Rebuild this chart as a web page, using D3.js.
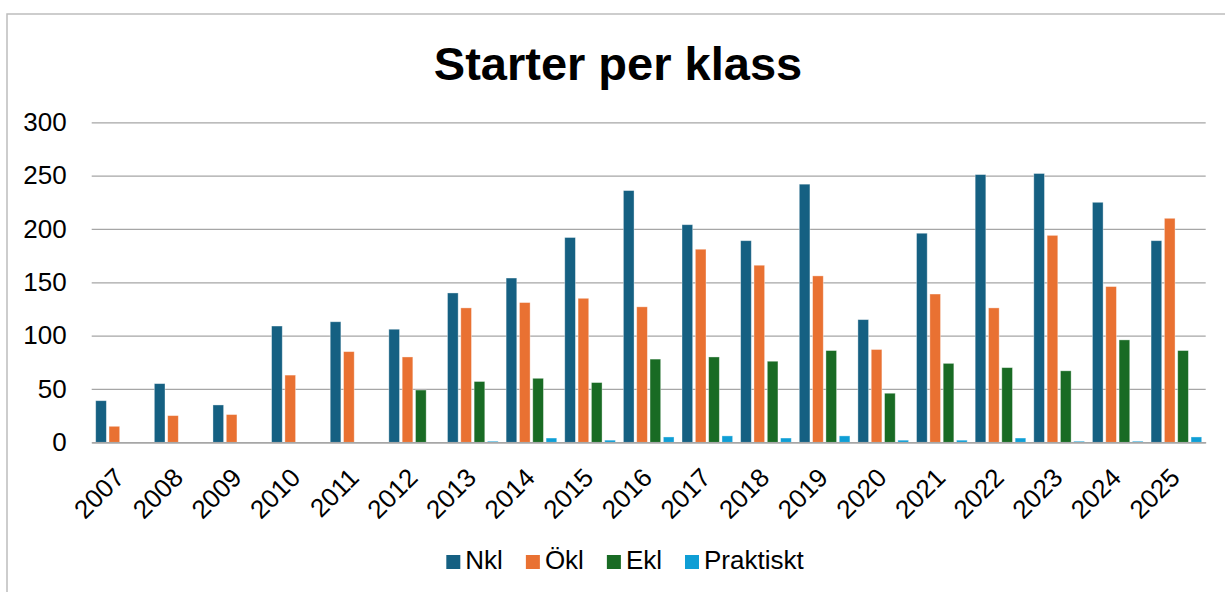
<!DOCTYPE html>
<html>
<head>
<meta charset="utf-8">
<script src="https://cdn.jsdelivr.net/npm/d3@7"></script>
<style>
  body { margin: 0; background: #fff; }
  svg { display: block; font-family: "Liberation Sans", Arial, sans-serif; }
</style>
</head>
<body>
<svg id="chart" width="1225" height="592"></svg>
<script>
// data
const years = ["2007","2008","2009","2010","2011","2012","2013","2014","2015","2016",
               "2017","2018","2019","2020","2021","2022","2023","2024","2025"];
const seriesNames = ["Nkl", "Ökl", "Ekl", "Praktiskt"];
const nkl       = [39, 55, 35, 109, 113, 106, 140, 154, 192, 236, 204, 189, 242, 115, 196, 251, 252, 225, 189];
const okl       = [15, 25, 26, 63, 85, 80, 126, 131, 135, 127, 181, 166, 156, 87, 139, 126, 194, 146, 210];
const ekl       = [0, 0, 0, 0, 0, 49, 57, 60, 56, 78, 80, 76, 86, 46, 74, 70, 67, 96, 86];
const praktiskt = [0, 0, 0, 0, 0, 0, 1, 4, 2, 5, 6, 4, 6, 2, 2, 4, 1, 1, 5];
const yTicks = [0, 50, 100, 150, 200, 250, 300];
const colors = ["#156082", "#E97132", "#196B24", "#0F9ED5"];

const allSeries = [nkl, okl, ekl, praktiskt];

const svg = d3.select("#chart");

// chart border (runs off right and bottom edge like the screenshot)
svg.append("rect")
    .attr("x", 7).attr("y", 14)
    .attr("width", 1240).attr("height", 600)
    .attr("fill", "none")
    .attr("stroke", "#bdbdbd")
    .attr("stroke-width", 1.5);

const plotL = 91.7, plotR = 1205.7, plotT = 122.3, plotB = 442.3;

const x0 = d3.scaleBand().domain(years).range([plotL, plotR]).padding(0);
const x1 = d3.scaleBand().domain(seriesNames).range([0, x0.bandwidth()])
    .paddingInner(0.2).paddingOuter(0.3);
const y = d3.scaleLinear().domain([0, 300]).range([plotB, plotT]);

// title
svg.append("text")
    .attr("x", 618).attr("y", 80)
    .attr("text-anchor", "middle")
    .attr("font-size", 47)
    .attr("font-weight", "bold")
    .attr("fill", "#000")
    .text("Starter per klass");

// gridlines + y labels
const yAxis = d3.axisLeft(y).tickValues(yTicks).tickSize(-(plotR - plotL)).tickPadding(25);
const gy = svg.append("g").attr("transform", `translate(${plotL},0)`).call(yAxis);
gy.select(".domain").remove();
gy.selectAll(".tick line").attr("stroke", "#a6a6a6").attr("stroke-width", 1.3);
gy.selectAll(".tick text")
    .attr("font-size", 26)
    .attr("fill", "#000")
    .attr("font-family", "'Liberation Sans', Arial, sans-serif");

// bars
const groups = svg.append("g").selectAll("g")
    .data(years)
    .join("g")
    .attr("transform", d => `translate(${x0(d)},0)`);

groups.selectAll("rect")
    .data((d, i) => seriesNames.map((s, k) => ({ s: s, v: allSeries[k][i], c: colors[k] })).filter(e => e.v > 0))
    .join("rect")
    .attr("x", d => x1(d.s))
    .attr("width", x1.bandwidth())
    .attr("y", d => y(d.v))
    .attr("height", d => y(0) - y(d.v))
    .attr("fill", d => d.c)
    .attr("stroke", "#ffffff")
    .attr("stroke-opacity", 0.45)
    .attr("stroke-width", 0.8);

// x axis
const xAxis = d3.axisBottom(x0).tickSize(0).tickPadding(0);
const gx = svg.append("g").attr("transform", `translate(0,${plotB})`).call(xAxis);
gx.select(".domain").attr("stroke", "#a6a6a6").attr("stroke-width", 1.5);
gx.selectAll(".tick text")
    .attr("font-size", 26)
    .attr("fill", "#000")
    .attr("font-family", "'Liberation Sans', Arial, sans-serif")
    .attr("text-anchor", "end")
    .attr("dy", 0)
    .attr("y", 0)
    .attr("transform", "translate(5,37) rotate(-45)");

// legend
const legend = svg.append("g");
const items = legend.selectAll("g").data(seriesNames).join("g");
items.append("rect")
    .attr("width", 14).attr("height", 14)
    .attr("y", 555)
    .attr("fill", (d, i) => colors[i]);
items.append("text")
    .attr("x", 19).attr("y", 569)
    .attr("font-size", 26)
    .attr("fill", "#000")
    .text(d => d);

let cx = 0;
const offs = [];
items.each(function () {
    offs.push(cx);
    const w = d3.select(this).select("text").node().getComputedTextLength();
    cx += 19 + w + 23;
});
const total = cx - 23;
const startX = 625 - total / 2;
items.attr("transform", (d, i) => `translate(${startX + offs[i]},0)`);
</script>
</body>
</html>
